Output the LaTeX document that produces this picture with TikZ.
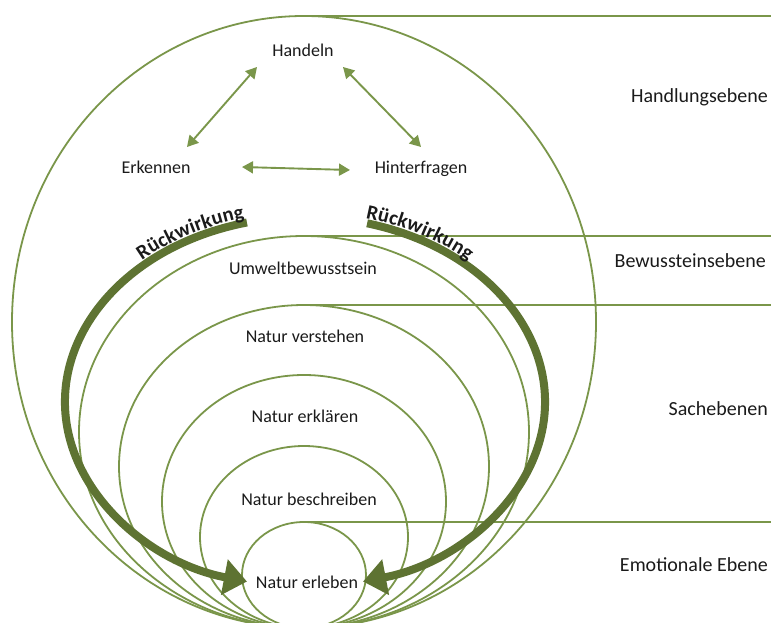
\documentclass[tikz,border=0pt]{standalone}
\usepackage{fontspec}
\setmainfont{Carlito}
\usetikzlibrary{arrows.meta,shapes.geometric,decorations.text}
\definecolor{ringgreen}{HTML}{7A964A}
\definecolor{loopgreen}{HTML}{5E7332}
\definecolor{inkgray}{HTML}{1A1A1A}
\newcommand{\loopfont}{\fontsize{20.5}{22}\selectfont\bfseries}

\begin{document}
\begin{tikzpicture}[x=1pt,y=-1pt,
  ring/.style={draw=ringgreen, line width=1.8pt, ellipse, inner sep=0pt, outer sep=0pt},
  level/.style={draw=ringgreen, line width=1.8pt},
  lbl/.style={font=\fontsize{18}{20}\selectfont, text=inkgray, inner sep=0pt, anchor=base},
  side/.style={font=\fontsize{20}{22}\selectfont, text=inkgray, inner sep=0pt, anchor=base east},
  link/.style={draw=ringgreen, line width=1.9pt,
    {Triangle[length=11pt,width=12pt]}-{Triangle[length=11pt,width=12pt]}},
  feedback/.style={draw=loopgreen, line width=8pt, -{Triangle[length=23pt,width=35pt]}},
  looplabel/.style={decorate, decoration={text along path, text align=center,
    raise=4.8pt, text color=inkgray, text={|\loopfont|#1}}},
]
\useasboundingbox (0,0) rectangle (771,623);
\clip (0,0) rectangle (771,623);

\coordinate (rim) at (771,0);

% nested levels, all touching at the bottom
\node[ring, minimum width=584pt, minimum height=612pt] (e1) at (304,322) {};
\node[ring, minimum width=450pt, minimum height=392pt] (e2) at (304,432) {};
\node[ring, minimum width=370pt, minimum height=323pt] (e3) at (304,466.5) {};
\node[ring, minimum width=284pt, minimum height=253pt] (e4) at (304,501.5) {};
\node[ring, minimum width=208pt, minimum height=182pt] (e5) at (304,537) {};
\node[ring, minimum width=124pt, minimum height=106pt] (e6) at (304,575) {};

% level separators
\draw[level] (e1.north) -- (e1.north -| rim);
\draw[level] (e2.north) -- (e2.north -| rim);
\draw[level] (e3.north) -- (e3.north -| rim);
\draw[level] (e6.north) -- (e6.north -| rim);

% level names
\node[side] (lv1) at (768,103) {Handlungsebene};
\node[side] (lv2) at (766,267) {Bewussteinsebene};
\node[side] (lv3) at (768,415) {Sachebenen};
\node[side] (lv4) at (768,571) {Emotionale Ebene};

% inner labels
\node[lbl] (handeln) at (303,57) {Handeln};
\node[lbl] (erkennen) at (156,173) {Erkennen};
\node[lbl] (hinter) at (421,173) {Hinterfragen};
\node[lbl] (umwelt) at (303,274) {Umweltbewusstsein};
\node[lbl] (verstehen) at (305,342) {Natur verstehen};
\node[lbl] (erklaeren) at (305,422) {Natur erklären};
\node[lbl] (beschreiben) at (309,505) {Natur beschreiben};
\node[lbl] (erleben) at (307,588) {Natur erleben};

% action triangle
\draw[link] ([shift={(-46,10)}]handeln.base) -- ([shift={(31,-26)}]erkennen.base);
\draw[link] ([shift={(40,10)}]handeln.base) -- ([shift={(0,-26)}]hinter.base);
\draw[link] ([shift={(86,-6)}]erkennen.base) -- ([shift={(-71,-3)}]hinter.base);

% feedback loops
\coordinate (loopc) at (305,402);
\draw[feedback] ([shift={(256:240 and 185)}]loopc)
  arc[start angle=256, end angle=104, x radius=240, y radius=185];
\draw[feedback] ([shift={(-75:240 and 185)}]loopc)
  arc[start angle=-75, end angle=76, x radius=240, y radius=185];

\path[looplabel=Rückwirkung] ([shift={(214:240 and 185)}]loopc)
  arc[start angle=214, end angle=268, x radius=240, y radius=185];
\path[looplabel=Rückwirkung] ([shift={(-88:240 and 185)}]loopc)
  arc[start angle=-88, end angle=-34, x radius=240, y radius=185];
\end{tikzpicture}
\end{document}
